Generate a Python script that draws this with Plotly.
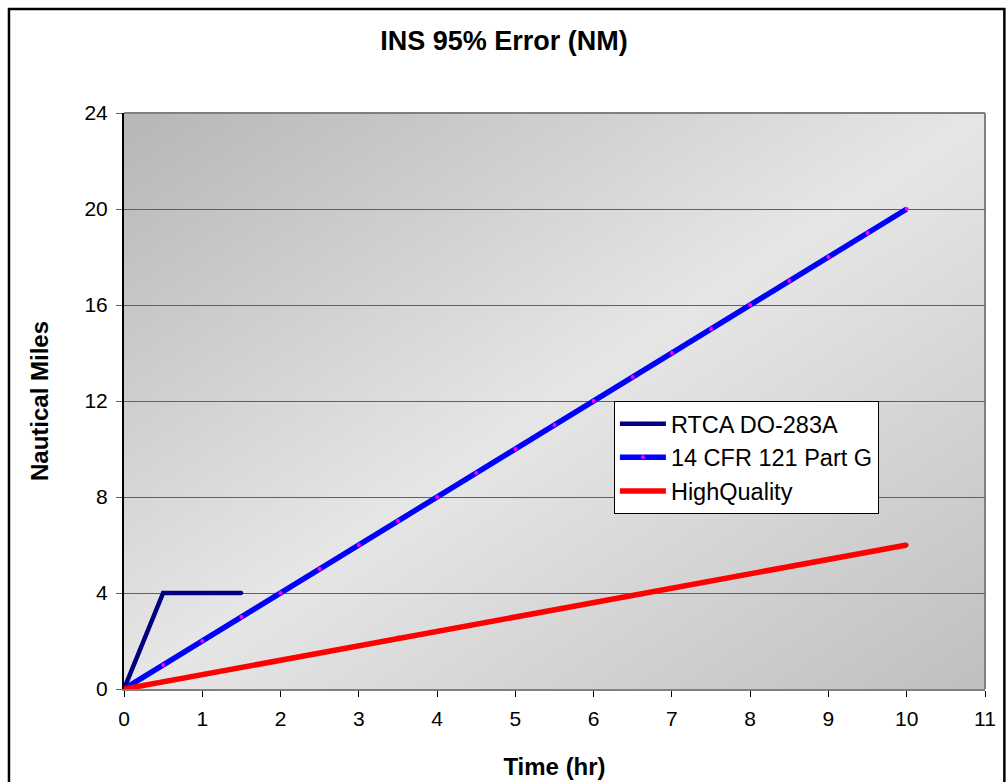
import base64
import plotly.graph_objects as go

# Series data: time in hours, error in nautical miles
rtca_time = [0, 0.5, 1, 1.5]
rtca_nm = [0, 4, 4, 4]

cfr_time = [0, 0.5, 1, 1.5, 2, 2.5, 3, 3.5, 4, 4.5, 5, 5.5, 6, 6.5, 7,
            7.5, 8, 8.5, 9, 9.5, 10]
cfr_nm = [0, 1, 2, 3, 4, 5, 6, 7, 8, 9, 10, 11, 12, 13, 14,
          15, 16, 17, 18, 19, 20]

hq_time = [0, 0.5, 1, 1.5, 2, 2.5, 3, 3.5, 4, 4.5, 5, 5.5, 6, 6.5, 7,
           7.5, 8, 8.5, 9, 9.5, 10]
hq_nm = [0, 0.3, 0.6, 0.9, 1.2, 1.5, 1.8, 2.15, 2.4, 2.7, 3.0, 3.3, 3.6, 3.9, 4.2,
         4.5, 4.8, 5.1, 5.4, 5.7, 6.0]

x_ticks = [0, 1, 2, 3, 4, 5, 6, 7, 8, 9, 10, 11]
y_ticks = [0, 4, 8, 12, 16, 20, 24]

FONT = "Liberation Sans, Arial, sans-serif"

# Diagonal grey gradient used as the plot-area fill
svg = (
    '<svg xmlns="http://www.w3.org/2000/svg" width="100" height="100" '
    'preserveAspectRatio="none" viewBox="0 0 100 100">'
    '<defs><linearGradient id="g" x1="0" y1="0" x2="1" y2="1">'
    '<stop offset="0" stop-color="#b6b6b6"/>'
    '<stop offset="0.5" stop-color="#e6e6e6"/>'
    '<stop offset="1" stop-color="#bfbfbf"/>'
    '</linearGradient></defs>'
    '<rect x="0" y="0" width="100" height="100" fill="url(#g)"/></svg>'
)
svg_uri = "data:image/svg+xml;base64," + base64.b64encode(svg.encode()).decode()

fig = go.Figure()

fig.add_trace(go.Scatter(
    x=rtca_time, y=rtca_nm, name="RTCA DO-283A", legendgroup="a",
    mode="lines+markers",
    line=dict(color="#000080", width=4.5),
    marker=dict(color="#000080", size=4),
))
fig.add_trace(go.Scatter(
    x=cfr_time, y=cfr_nm, name="14 CFR 121 Part G", legendgroup="b",
    mode="lines+markers",
    line=dict(color="#0000ff", width=5.5),
    marker=dict(color="#ff00ff", size=4),
))
fig.add_trace(go.Scatter(
    x=hq_time, y=hq_nm, name="HighQuality", legendgroup="c",
    mode="lines+markers",
    line=dict(color="#ff0000", width=5.5),
    marker=dict(color="#ff0000", size=4),
))

fig.add_layout_image(dict(
    source=svg_uri, xref="paper", yref="paper", x=0, y=1,
    sizex=1, sizey=1, sizing="stretch", xanchor="left", yanchor="top",
    layer="below",
))

# Grey frame on top and right of plot area
fig.add_shape(type="line", xref="paper", yref="paper", x0=0, x1=1, y0=1, y1=1,
              line=dict(color="#808080", width=2), layer="below")
fig.add_shape(type="line", xref="paper", yref="paper", x0=1, x1=1, y0=0, y1=1,
              line=dict(color="#808080", width=2), layer="below")

# Outer chart border
fig.add_shape(type="rect", xref="paper", yref="paper",
              x0=-0.1336, x1=1.0225, y0=-0.2, y1=1.1806,
              line=dict(color="#000000", width=2.5), fillcolor="rgba(0,0,0,0)")

fig.update_layout(
    width=1008, height=782,
    margin=dict(l=124, r=23, t=113, b=93),
    paper_bgcolor="#ffffff",
    plot_bgcolor="rgba(0,0,0,0)",
    font=dict(family=FONT, color="#000000", size=20),
    title=dict(text="<b>INS 95% Error (NM)</b>", x=0.5, xref="container",
               y=1 - 41 / 782, yref="container", yanchor="middle",
               font=dict(family=FONT, size=27, color="#000000")),
    showlegend=True,
    legend=dict(
        x=0.569, y=0.5, xanchor="left", yanchor="top",
        bgcolor="#ffffff", bordercolor="#000000", borderwidth=1,
        font=dict(family=FONT, size=23.5, color="#000000"),
        tracegroupgap=8, traceorder="normal", itemwidth=46,
    ),
    xaxis=dict(
        range=[0, 11], tickvals=x_ticks, ticktext=[str(v) for v in x_ticks],
        showgrid=False, zeroline=False, automargin=False,
        showline=True, linecolor="#808080", linewidth=2,
        ticks="outside", ticklen=6, tickcolor="#000000", tickwidth=1,
        ticklabelstandoff=4,
        tickfont=dict(family=FONT, size=21),
        title=dict(text="<b>Time (hr)</b>", font=dict(family=FONT, size=24), standoff=29),
        fixedrange=True,
    ),
    yaxis=dict(
        range=[0, 24], tickvals=y_ticks, ticktext=[str(v) for v in y_ticks],
        showgrid=True, gridcolor="#606060", gridwidth=1.2,
        zeroline=False, automargin=False,
        showline=True, linecolor="#000000", linewidth=2,
        ticks="outside", ticklen=6, tickcolor="#606060", tickwidth=1,
        ticklabelstandoff=4,
        tickfont=dict(family=FONT, size=21),
        title=dict(text="<b>Nautical Miles</b>", font=dict(family=FONT, size=24), standoff=29),
        fixedrange=True,
    ),
)

fig.write_html("out.html")
